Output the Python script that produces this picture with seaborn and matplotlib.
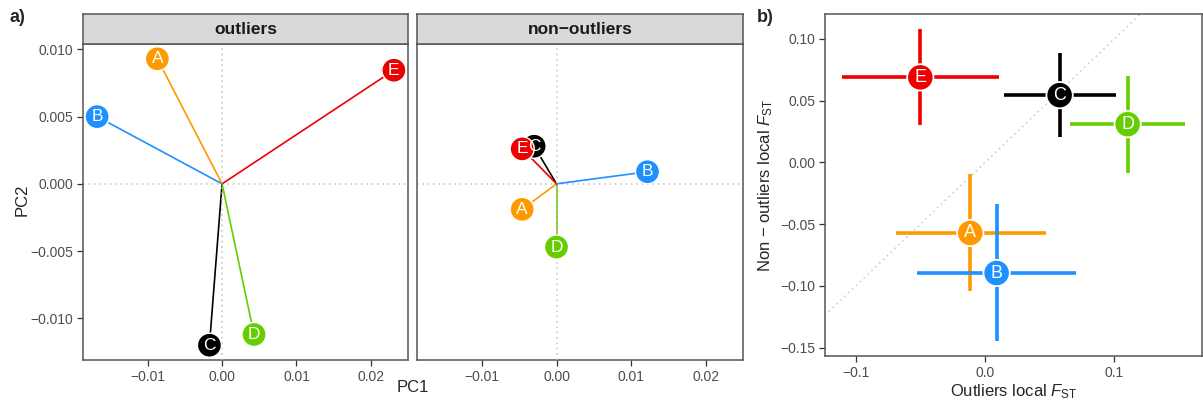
import numpy as np
import pandas as pd
import seaborn as sns
import matplotlib.pyplot as plt

# --- data ---
pops = ["A", "B", "C", "D", "E"]
colours = {"A": "#FF9900", "B": "#1E90FF", "C": "#000000", "D": "#66CD00", "E": "#EE0000"}

# panel a) PCA loadings
pc1_out = [-0.0087, -0.0168, -0.0017, 0.0043, 0.0231]
pc2_out = [0.0093, 0.0050, -0.0120, -0.0112, 0.00845]
pc1_non = [-0.0046, 0.0122, -0.0030, 0.0000, -0.0046]
pc2_non = [-0.0019, 0.0009, 0.0028, -0.0047, 0.0026]

# panel b) local FST with intervals
fst_out = [-0.0114, 0.0090, 0.0577, 0.1103, -0.0500]
fst_out_lo = [-0.0686, -0.0526, 0.0144, 0.0660, -0.1106]
fst_out_hi = [0.0472, 0.0704, 0.1013, 0.1549, 0.0105]
fst_non = [-0.0571, -0.0895, 0.0545, 0.0310, 0.0689]
fst_non_lo = [-0.1041, -0.1448, 0.0205, -0.0084, 0.0300]
fst_non_hi = [-0.0095, -0.0338, 0.0888, 0.0702, 0.1080]

sns.set_theme(style="white")
plt.rcParams["font.family"] = ["Liberation Sans", "DejaVu Sans"]
plt.rcParams["mathtext.fontset"] = "custom"
plt.rcParams["mathtext.rm"] = "Liberation Sans"
plt.rcParams["mathtext.it"] = "Liberation Sans:italic"

W, H = 1203, 403
fig = plt.figure(figsize=(W / 100, H / 100), dpi=100)


def box(x0, y0, x1, y1):
    return [x0 / W, 1 - y1 / H, (x1 - x0) / W, (y1 - y0) / H]


tick_col = "#4D4D4D"
frame_col = "#555555"


def style_axes(ax, show_y=True):
    for s in ax.spines.values():
        s.set_color(frame_col)
        s.set_linewidth(1.1)
    ax.tick_params(axis="both", direction="out", length=4, width=0.9, color="#333333",
                   labelsize=10, labelcolor=tick_col, left=show_y, bottom=True, pad=3)
    ax.grid(False)


def pca_facet(ax, xs, ys, title, show_y):
    df = pd.DataFrame({"pop": pops, "x": xs, "y": ys})
    ax.axhline(0, color="#C0C0C0", ls=(0, (1, 2.5)), lw=1.1, zorder=1)
    ax.axvline(0, color="#C0C0C0", ls=(0, (1, 2.5)), lw=1.1, zorder=3)
    for _, r in df.iterrows():
        ax.plot([0, r.x], [0, r.y], color=colours[r["pop"]], lw=1.2, zorder=2)
    sns.scatterplot(data=df, x="x", y="y", hue="pop", palette=colours, s=300,
                    edgecolor="white", linewidth=1.0, legend=False, ax=ax, zorder=4)
    for _, r in df.iterrows():
        ax.text(r.x, r.y, r["pop"], color="white", ha="center", va="center",
                fontsize=12.5, zorder=5)
    ax.set_xlim(-0.0187, 0.0250)
    ax.set_ylim(-0.0131, 0.0104)
    ax.set_xticks([-0.01, 0.0, 0.01, 0.02])
    ax.set_xticklabels(["\u22120.01", "0.00", "0.01", "0.02"])
    ax.set_yticks([-0.010, -0.005, 0.0, 0.005, 0.010])
    if show_y:
        ax.set_yticklabels(["\u22120.010", "\u22120.005", "0.000", "0.005", "0.010"])
    else:
        ax.set_yticklabels([])
    ax.set_xlabel("")
    ax.set_ylabel("")
    style_axes(ax, show_y)
    # facet strip
    pos = ax.get_position()
    strip = fig.add_axes([pos.x0, pos.y1, pos.width, 30 / H])
    strip.set_facecolor("#D9D9D9")
    strip.set_xticks([])
    strip.set_yticks([])
    for s in strip.spines.values():
        s.set_color(frame_col)
        s.set_linewidth(1.1)
    strip.text(0.5, 0.48, title, ha="center", va="center", fontsize=12.5,
               fontweight="bold", color="#1A1A1A", transform=strip.transAxes)


ax1 = fig.add_axes(box(83, 44, 408, 360))
pca_facet(ax1, pc1_out, pc2_out, "outliers", True)
ax2 = fig.add_axes(box(417, 44, 743, 360))
pca_facet(ax2, pc1_non, pc2_non, "non\u2212outliers", False)

fig.text(413 / W, 1 - 388 / H, "PC1", ha="center", va="center", fontsize=12)
fig.text(22 / W, 1 - 200 / H, "PC2", ha="center", va="center", fontsize=12, rotation=90)
fig.text(10 / W, 1 - 18 / H, "a)", ha="left", va="center", fontsize=13, fontweight="bold")
fig.text(757 / W, 1 - 18 / H, "b)", ha="left", va="center", fontsize=13, fontweight="bold")

# panel b)
ax3 = fig.add_axes(box(825, 14, 1202, 356))
dfb = pd.DataFrame({"pop": pops, "x": fst_out, "y": fst_non,
                    "xlo": fst_out_lo, "xhi": fst_out_hi,
                    "ylo": fst_non_lo, "yhi": fst_non_hi})
ax3.axline((0, 0), slope=1, color="#C8C8C8", ls=(0, (1, 2.5)), lw=1.1, zorder=1)
for _, r in dfb.iterrows():
    c = colours[r["pop"]]
    ax3.plot([r.xlo, r.xhi], [r.y, r.y], color=c, lw=2.6, solid_capstyle="butt", zorder=2)
    ax3.plot([r.x, r.x], [r.ylo, r.yhi], color=c, lw=2.6, solid_capstyle="butt", zorder=2)
sns.scatterplot(data=dfb, x="x", y="y", hue="pop", palette=colours, s=360,
                edgecolor="white", linewidth=1.3, legend=False, ax=ax3, zorder=4)
for _, r in dfb.iterrows():
    ax3.text(r.x, r.y, r["pop"], color="white", ha="center", va="center",
             fontsize=13, zorder=5)
ax3.set_xlim(-0.1237, 0.1678)
ax3.set_ylim(-0.1567, 0.1202)
ax3.set_xticks([-0.1, 0.0, 0.1])
ax3.set_xticklabels(["\u22120.1", "0.0", "0.1"])
ax3.set_yticks([-0.15, -0.10, -0.05, 0.0, 0.05, 0.10])
ax3.set_yticklabels(["\u22120.15", "\u22120.10", "\u22120.05", "0.00", "0.05", "0.10"])
ax3.set_xlabel("Outliers local $\\mathit{F}_{\\mathrm{ST}}$", fontsize=12, labelpad=2)
ax3.set_ylabel("Non \u2212 outliers local $\\mathit{F}_{\\mathrm{ST}}$", fontsize=12, labelpad=4)
style_axes(ax3)

fig.savefig("out.png", dpi=100)
